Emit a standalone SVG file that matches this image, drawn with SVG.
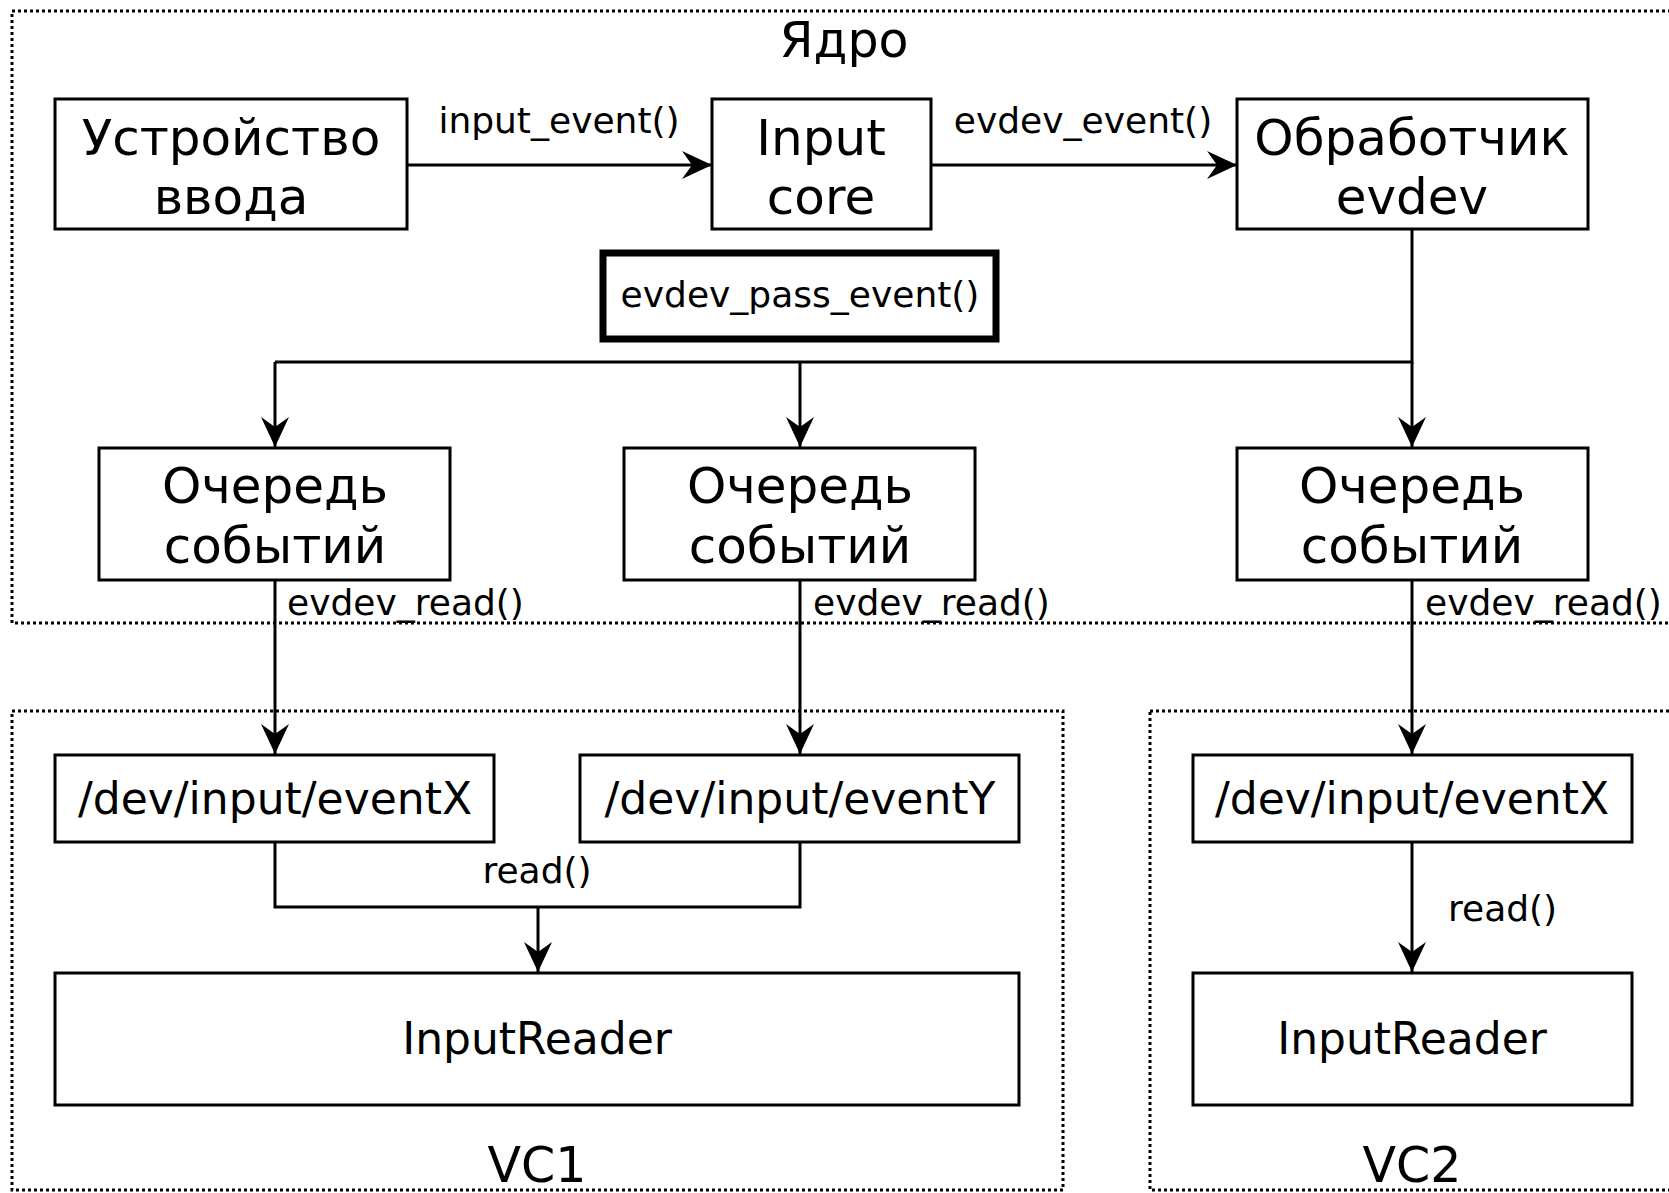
<svg xmlns="http://www.w3.org/2000/svg" width="1669" height="1193" viewBox="0 0 1669 1193">
<style>
  .frame { fill: none; stroke: #000; stroke-width: 3; stroke-dasharray: 3 3; }
  .box { fill: #fff; stroke: #000; stroke-width: 3; }
  .thick { fill: #fff; stroke: #000; stroke-width: 7; }
  .t { font-family: "DejaVu Sans", sans-serif; font-size: 50px; text-anchor: middle; fill: #000; }
  .t2 { font-family: "DejaVu Sans", sans-serif; font-size: 44px; text-anchor: middle; fill: #000; }
  .title { font-family: "DejaVu Sans", sans-serif; font-size: 49px; text-anchor: middle; fill: #000; }
  .lbl { font-family: "DejaVu Sans", sans-serif; font-size: 36px; fill: #000; }
  .c { fill: none; stroke: #000; stroke-width: 3; }
  .a { fill: none; stroke: #000; stroke-width: 3; marker-end: url(#arr); }
</style>
<defs>
  <marker id="arr" markerUnits="userSpaceOnUse" viewBox="-32 -16 34 32" markerWidth="34" markerHeight="32" refX="0" refY="0" orient="auto">
    <path d="M0 0 L-30 -14 L-20 0 L-30 14 Z" fill="#000"/>
  </marker>
</defs>
<rect width="1669" height="1193" fill="#fff"/>

<g id="frames">
  <g id="kernel"><rect class="frame" x="12" y="11" width="1680" height="612"/><text class="title" x="844" y="57">Ядро</text></g>
  <g id="vc1"><rect class="frame" x="12" y="711" width="1051" height="479"/><text class="title" x="537" y="1182">VC1</text></g>
  <g id="vc2"><rect class="frame" x="1150" y="711" width="540" height="479"/><text class="title" x="1412" y="1182">VC2</text></g>
</g>

<g id="connectors">
  <line class="a" x1="407" y1="165" x2="712" y2="165"/>
  <text class="lbl" x="559" y="133" text-anchor="middle">input_event()</text>
  <line class="a" x1="931" y1="165" x2="1237" y2="165"/>
  <text class="lbl" x="1083" y="133" text-anchor="middle">evdev_event()</text>
  <polyline class="c" points="1412,229 1412,362 275,362"/>
  <line class="a" x1="1412" y1="362" x2="1412" y2="447"/>
  <line class="a" x1="275" y1="362" x2="275" y2="447"/>
  <line class="a" x1="800" y1="362" x2="800" y2="447"/>
  <line class="a" x1="275" y1="580" x2="275" y2="754"/>
  <line class="a" x1="800" y1="580" x2="800" y2="754"/>
  <line class="a" x1="1412" y1="580" x2="1412" y2="754"/>
  <text class="lbl" x="287" y="615">evdev_read()</text>
  <text class="lbl" x="813" y="615">evdev_read()</text>
  <text class="lbl" x="1425" y="615">evdev_read()</text>
  <polyline class="c" points="275,842 275,907 800,907 800,842"/>
  <line class="a" x1="538" y1="907" x2="538" y2="972"/>
  <text class="lbl" x="537" y="883" text-anchor="middle">read()</text>
  <line class="a" x1="1412" y1="842" x2="1412" y2="972"/>
  <text class="lbl" x="1448" y="921">read()</text>
</g>

<g id="device"><rect class="box" x="55" y="99" width="352" height="130"/><text class="t" x="231" y="155">Устройство</text><text class="t" x="231" y="214">ввода</text></g>
<g id="inputcore"><rect class="box" x="712" y="99" width="219" height="130"/><text class="t" x="821" y="155">Input</text><text class="t" x="821" y="214">core</text></g>
<g id="handler"><rect class="box" x="1237" y="99" width="351" height="130"/><text class="t" x="1412" y="155">Обработчик</text><text class="t" x="1412" y="214">evdev</text></g>
<g id="passevent"><rect class="thick" x="603" y="253" width="393" height="86"/><text class="lbl" x="800" y="307" text-anchor="middle">evdev_pass_event()</text></g>
<g id="queue1"><rect class="box" x="99" y="448" width="351" height="132"/><text class="t" x="275" y="503">Очередь</text><text class="t" x="275" y="563">событий</text></g>
<g id="queue2"><rect class="box" x="624" y="448" width="351" height="132"/><text class="t" x="800" y="503">Очередь</text><text class="t" x="800" y="563">событий</text></g>
<g id="queue3"><rect class="box" x="1237" y="448" width="351" height="132"/><text class="t" x="1412" y="503">Очередь</text><text class="t" x="1412" y="563">событий</text></g>
<g id="devX1"><rect class="box" x="55" y="755" width="439" height="87"/><text class="t2" x="275" y="814">/dev/input/eventX</text></g>
<g id="devY1"><rect class="box" x="580" y="755" width="439" height="87"/><text class="t2" x="800" y="814">/dev/input/eventY</text></g>
<g id="reader1"><rect class="box" x="55" y="973" width="964" height="132"/><text class="t2" x="537" y="1054">InputReader</text></g>
<g id="devX2"><rect class="box" x="1193" y="755" width="439" height="87"/><text class="t2" x="1412" y="814">/dev/input/eventX</text></g>
<g id="reader2"><rect class="box" x="1193" y="973" width="439" height="132"/><text class="t2" x="1412" y="1054">InputReader</text></g>
</svg>
